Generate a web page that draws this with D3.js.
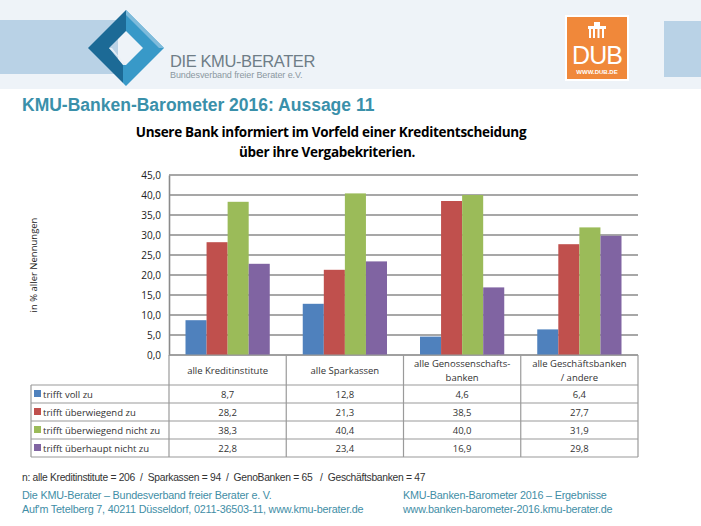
<!DOCTYPE html>
<meta charset="utf-8">
<style>
  body { margin: 0; background: #fff; }
  text { font-family: "Liberation Sans", Arial, sans-serif; }
  .cal { font-family: "Open Sans", "Liberation Sans", sans-serif; }
</style>
<body>
<script src="https://d3js.org/d3.v7.min.js"></script>
<script>

  var categories = ["alle Kreditinstitute", "alle Sparkassen", "alle Genossenschafts-|banken", "alle Geschäftsbanken|/ andere"];
  var seriesNames = ["trifft voll zu", "trifft überwiegend zu", "trifft überwiegend nicht zu", "trifft überhaupt nicht zu"];
  var seriesColors = ["#4f81bd", "#c0504d", "#9bbb59", "#8064a2"];
  var vollZu = [8.7, 12.8, 4.6, 6.4];
  var ueberwiegendZu = [28.2, 21.3, 38.5, 27.7];
  var ueberwiegendNicht = [38.3, 40.4, 40.0, 31.9];
  var ueberhauptNicht = [22.8, 23.4, 16.9, 29.8];
  var yTicks = [0, 5, 10, 15, 20, 25, 30, 35, 40, 45];

  var series = [vollZu, ueberwiegendZu, ueberwiegendNicht, ueberhauptNicht];
  var comma = function(v) { return d3.format(".1f")(v).replace(".", ","); };

  var W = 701, H = 526;
  var svg = d3.select("body").append("svg").attr("width", W).attr("height", H);

  // page header band
  svg.append("rect").attr("x", 0).attr("y", 0).attr("width", W).attr("height", 89).attr("fill", "#eef3f8");
  svg.append("rect").attr("x", 0).attr("y", 20).attr("width", 118).attr("height", 54).attr("fill", "#b9d2e6");
  svg.append("rect").attr("x", 664).attr("y", 21).attr("width", 37).attr("height", 56).attr("fill", "#b9d2e6");

  // KMU logo (rough diamond ring, dark left half, lighter right half)
  var logo = svg.append("g").attr("transform", "translate(126,48)");
  logo.append("polygon").attr("points", "0,-38 -38,0 -3,35 -3,17 -17,0 0,-17").attr("fill", "#1c6a96");
  logo.append("polygon").attr("points", "0,-38 38,0 0,38 -3,35 -3,17 0,17 17,0 0,-17").attr("fill", "#3899c8");
  logo.append("polygon").attr("points", "0,-38 38,0 33,0 0,-33").attr("fill", "#7fbbdb");
  logo.append("polygon").attr("points", "-17,0 0,17 -3,17 -3,14 -14,0").attr("fill", "#e6eff6");
  svg.append("text").attr("x", 170).attr("y", 67).attr("font-size", 16.5).attr("letter-spacing", -0.4)
    .attr("fill", "#6e7d87").text("DIE KMU-BERATER");
  svg.append("text").attr("x", 170).attr("y", 78).attr("font-size", 9).attr("letter-spacing", -0.1)
    .attr("fill", "#8b98a1").text("Bundesverband freier Berater e.V.");

  // DUB logo
  svg.append("rect").attr("x", 565).attr("y", 15).attr("width", 64).attr("height", 66).attr("fill", "#fff");
  svg.append("rect").attr("x", 567).attr("y", 17).attr("width", 60).attr("height", 62).attr("fill", "#f0883a");
  var gate = svg.append("g").attr("fill", "#fff");
  gate.append("rect").attr("x", 588).attr("y", 26).attr("width", 18).attr("height", 3);
  gate.append("rect").attr("x", 594).attr("y", 22).attr("width", 6).attr("height", 4);
  [589, 593, 597.5, 602].forEach(function(x) { gate.append("rect").attr("x", x).attr("y", 29).attr("width", 2).attr("height", 9); });
  svg.append("text").attr("x", 597).attr("y", 64).attr("text-anchor", "middle").attr("font-family", "DejaVu Serif, serif")
    .attr("font-size", 25).attr("letter-spacing", -1).attr("fill", "#fff").text("DUB");
  svg.append("text").attr("x", 597).attr("y", 74).attr("text-anchor", "middle").attr("font-family", "DejaVu Serif, serif")
    .attr("font-size", 6).attr("font-weight", "bold").attr("fill", "#fff").text("WWW.DUB.DE");

  // slide title
  svg.append("text").attr("x", 22).attr("y", 111).attr("font-size", 17.5).attr("font-weight", "bold").attr("fill", "#3a90aa")
    .text("KMU-Banken-Barometer 2016: Aussage 11");

  // chart title
  svg.append("text").attr("class", "cal").attr("x", 331).attr("y", 137).attr("text-anchor", "middle").attr("font-size", 13.5)
    .attr("font-weight", "bold").attr("letter-spacing", -0.3).text("Unsere Bank informiert im Vorfeld einer Kreditentscheidung");
  svg.append("text").attr("class", "cal").attr("x", 327).attr("y", 157).attr("text-anchor", "middle").attr("font-size", 13.5)
    .attr("font-weight", "bold").attr("letter-spacing", -0.3).text("über ihre Vergabekriterien.");

  // scales
  var plotL = 169, plotR = 638, plotT = 175, plotB = 355;
  var y = d3.scaleLinear().domain([0, 45]).range([plotB, plotT]);
  var x0 = d3.scaleBand().domain(categories).range([plotL, plotR]).padding(0);
  var x1 = d3.scaleBand().domain(d3.range(4)).range([16.5, x0.bandwidth() - 16.5]).padding(0);

  // gridlines
  svg.append("g").selectAll("line").data(yTicks).join("line")
    .attr("x1", plotL).attr("x2", plotR).attr("y1", function(d) { return y(d); }).attr("y2", function(d) { return y(d); })
    .attr("stroke", "#8a8a8a").attr("stroke-width", 1.6);

  // y axis
  var yAxis = svg.append("g").attr("transform", "translate(" + plotL + ",0)")
    .call(d3.axisLeft(y).tickValues(yTicks).tickFormat(comma).tickSize(0).tickPadding(8));
  yAxis.select(".domain").attr("stroke", "#8a8a8a").attr("stroke-width", 1.6);
  yAxis.selectAll("text").attr("class", "cal").attr("font-size", 10).attr("fill", "#222");

  svg.append("text").attr("class", "cal").attr("transform", "translate(37,265) rotate(-90)").attr("text-anchor", "middle")
    .attr("font-size", 9.5).attr("fill", "#222").text("in % aller Nennungen");

  // bars
  var groups = svg.append("g").selectAll("g").data(categories).join("g")
    .attr("transform", function(d) { return "translate(" + x0(d) + ",0)"; });
  groups.selectAll("rect").data(function(d, i) { return series.map(function(s, k) { return { k: k, v: s[i] }; }); })
    .join("rect")
    .attr("x", function(d) { return x1(d.k); })
    .attr("width", x1.bandwidth())
    .attr("y", function(d) { return y(d.v); })
    .attr("height", function(d) { return plotB - y(d.v); })
    .attr("fill", function(d) { return seriesColors[d.k]; });

  // data table
  var rowTop = 385, rowH = 18, tableL = 31, tableB = rowTop + rowH * 4;
  var tbl = svg.append("g").attr("stroke", "#9a9a9a").attr("stroke-width", 1.2);
  tbl.append("line").attr("x1", plotL).attr("x2", plotR).attr("y1", plotB).attr("y2", plotB);
  d3.range(5).forEach(function(r) {
    tbl.append("line").attr("x1", tableL).attr("x2", plotR).attr("y1", rowTop + r * rowH).attr("y2", rowTop + r * rowH);
  });
  tbl.append("line").attr("x1", tableL).attr("x2", tableL).attr("y1", rowTop).attr("y2", tableB);
  categories.forEach(function(c) {
    tbl.append("line").attr("x1", x0(c)).attr("x2", x0(c)).attr("y1", plotB).attr("y2", tableB);
  });
  tbl.append("line").attr("x1", plotR).attr("x2", plotR).attr("y1", plotB).attr("y2", tableB);

  categories.forEach(function(c) {
    var lines = c.split("|");
    var cx = x0(c) + x0.bandwidth() / 2;
    lines.forEach(function(l, j) {
      svg.append("text").attr("class", "cal").attr("x", cx)
        .attr("y", (lines.length === 1 ? 374 : 367 + j * 14)).attr("text-anchor", "middle")
        .attr("font-size", 9.5).attr("fill", "#333").text(l);
    });
  });

  seriesNames.forEach(function(name, k) {
    var ry = rowTop + k * rowH;
    svg.append("rect").attr("x", tableL + 3).attr("y", ry + 5).attr("width", 7).attr("height", 7).attr("fill", seriesColors[k]);
    svg.append("text").attr("class", "cal").attr("x", tableL + 12).attr("y", ry + 12.5).attr("font-size", 9.5)
      .attr("fill", "#333").text(name);
    categories.forEach(function(c, i) {
      svg.append("text").attr("class", "cal").attr("x", x0(c) + x0.bandwidth() / 2).attr("y", ry + 12.5)
        .attr("text-anchor", "middle").attr("font-size", 9.5).attr("fill", "#333").text(comma(series[k][i]));
    });
  });

  // footnote
  svg.append("text").attr("x", 22).attr("y", 481).attr("font-size", 10.3).attr("fill", "#333").attr("letter-spacing", -0.3)
    .style("white-space", "pre")
    .text("n: alle Kreditinstitute = 206  /  Sparkassen = 94  /  GenoBanken = 65   /  Geschäftsbanken = 47");

  var foot = [
    [22, 499, "Die KMU-Berater – Bundesverband freier Berater e. V."],
    [22, 513, "Auf'm Tetelberg 7, 40211 Düsseldorf, 0211-36503-11, www.kmu-berater.de"],
    [403, 499, "KMU-Banken-Barometer 2016 – Ergebnisse"],
    [403, 513, "www.banken-barometer-2016.kmu-berater.de"]
  ];
  foot.forEach(function(f) {
    svg.append("text").attr("x", f[0]).attr("y", f[1]).attr("font-size", 10.8).attr("fill", "#3f8ea6")
      .attr("letter-spacing", -0.2).text(f[2]);
  });

</script>
